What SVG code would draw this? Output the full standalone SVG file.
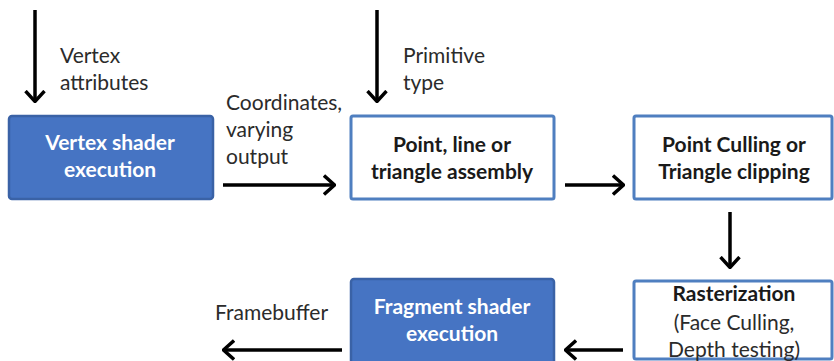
<svg xmlns="http://www.w3.org/2000/svg" width="834" height="361" viewBox="0 0 834 361">
  <defs>
    <marker id="head" viewBox="0 0 13 22" refX="12" refY="11" markerWidth="13" markerHeight="22" markerUnits="userSpaceOnUse" orient="auto">
      <path d="M1,1.5 L11.5,11 L1,20.5" fill="none" stroke="#000" stroke-width="3.4" stroke-linejoin="miter"/>
    </marker>
  </defs>
  <style>
    .filled { fill: #4674C3; stroke: #3A62A6; stroke-width: 2.5; }
    .open { fill: #FFFFFF; stroke: #4F7FC0; stroke-width: 3; }
    .title { font-family: Lato, "Liberation Sans", sans-serif; font-weight: bold; font-size: 21px; text-anchor: middle; }
    .light { fill: #FFFFFF; }
    .dark { fill: #1A1A1A; }
    .plain { font-family: Lato, "Liberation Sans", sans-serif; font-size: 21px; fill: #2B2B2B; }
    .wire { stroke: #000; stroke-width: 3.5; fill: none; marker-end: url(#head); }
  </style>

  <rect width="834" height="361" fill="#FFFFFF"/>

  <!-- connectors -->
  <g id="connectors">
    <line class="wire" x1="35" y1="10" x2="35" y2="102"/>
    <line class="wire" x1="377" y1="10" x2="377" y2="102"/>
    <line class="wire" x1="223" y1="185" x2="335" y2="185"/>
    <line class="wire" x1="565" y1="185" x2="624" y2="185"/>
    <line class="wire" x1="730" y1="212" x2="730" y2="268"/>
    <line class="wire" x1="623" y1="350" x2="565" y2="350"/>
    <line class="wire" x1="342" y1="350" x2="223" y2="350"/>
  </g>

  <!-- edge labels -->
  <g id="labels">
    <text class="plain" x="60" y="63">Vertex</text>
    <text class="plain" x="60" y="90">attributes</text>
    <text class="plain" x="226" y="110">Coordinates,</text>
    <text class="plain" x="226" y="137">varying</text>
    <text class="plain" x="226" y="164">output</text>
    <text class="plain" x="403" y="63">Primitive</text>
    <text class="plain" x="403" y="90">type</text>
    <text class="plain" x="215" y="320">Framebuffer</text>
  </g>

  <g id="vertex-shader">
    <rect class="filled" x="9" y="116" width="204" height="83" rx="3"/>
    <text class="title light" x="110" y="150">Vertex shader</text>
    <text class="title light" x="110" y="177">execution</text>
  </g>

  <g id="primitive-assembly">
    <rect class="open" x="351" y="116" width="203" height="83" rx="2"/>
    <text class="title dark" x="452" y="152">Point, line or</text>
    <text class="title dark" x="452" y="179">triangle assembly</text>
  </g>

  <g id="culling-clipping">
    <rect class="open" x="634" y="116" width="198" height="83" rx="2"/>
    <text class="title dark" x="734" y="152">Point Culling or</text>
    <text class="title dark" x="734" y="179">Triangle clipping</text>
  </g>

  <g id="rasterization">
    <rect class="open" x="634" y="281" width="198" height="78" rx="2"/>
    <text class="title dark" x="734" y="301">Rasterization</text>
    <text class="plain" x="734" y="330" text-anchor="middle">(Face Culling,</text>
    <text class="plain" x="734" y="357" text-anchor="middle">Depth testing)</text>
  </g>

  <g id="fragment-shader">
    <rect class="filled" x="351" y="279" width="203" height="90" rx="3"/>
    <text class="title light" x="452" y="314">Fragment shader</text>
    <text class="title light" x="452" y="341">execution</text>
  </g>
</svg>
